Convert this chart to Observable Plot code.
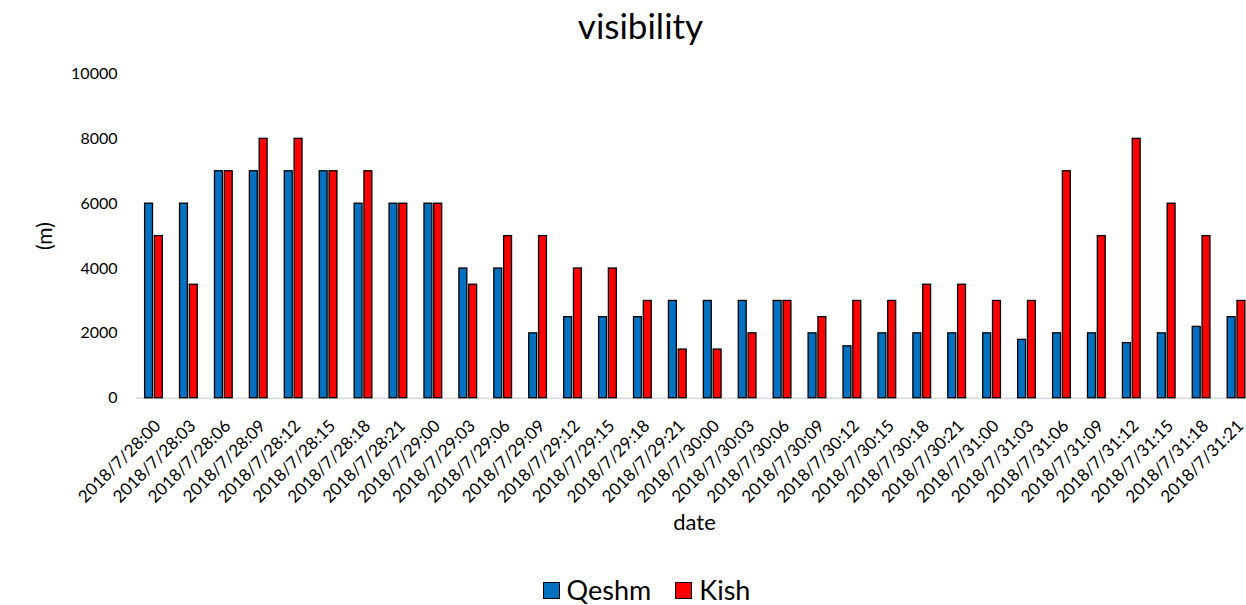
<!DOCTYPE html>
<html><head><meta charset="utf-8">
<script src="https://cdn.jsdelivr.net/npm/d3@7"></script>
<script src="https://cdn.jsdelivr.net/npm/@observablehq/plot@0.6"></script>
<style>
html,body{margin:0;padding:0;background:#fff;overflow:hidden;width:1246px;height:605px;font-family:Lato,sans-serif;color:#000;}
#title{height:50px;line-height:50px;text-align:center;padding-left:35px;font-size:35px;box-sizing:border-box;}
#chart svg{display:block;}
#legend{height:60px;display:flex;justify-content:center;align-items:center;padding-left:47px;padding-top:30px;box-sizing:border-box;font-size:27px;line-height:30px;}
.item{display:flex;align-items:center;margin:0 12px;}
.sw{width:15px;height:15px;border:1.5px solid #000;margin-right:7px;}
</style>
</head><body>
<div id="title">visibility</div>
<div id="chart"></div>
<div id="legend"></div>
<script>
const dates = ["2018/7/28:00","2018/7/28:03","2018/7/28:06","2018/7/28:09","2018/7/28:12","2018/7/28:15","2018/7/28:18","2018/7/28:21",
"2018/7/29:00","2018/7/29:03","2018/7/29:06","2018/7/29:09","2018/7/29:12","2018/7/29:15","2018/7/29:18","2018/7/29:21",
"2018/7/30:00","2018/7/30:03","2018/7/30:06","2018/7/30:09","2018/7/30:12","2018/7/30:15","2018/7/30:18","2018/7/30:21",
"2018/7/31:00","2018/7/31:03","2018/7/31:06","2018/7/31:09","2018/7/31:12","2018/7/31:15","2018/7/31:18","2018/7/31:21"];
const qeshm = [6000,6000,7000,7000,7000,7000,6000,6000,6000,4000,4000,2000,2500,2500,2500,3000,3000,3000,3000,2000,1600,2000,2000,2000,2000,1800,2000,2000,1700,2000,2200,2500];
const kish = [5000,3500,7000,8000,8000,7000,7000,6000,6000,3500,5000,5000,4000,4000,3000,1500,1500,2000,3000,2500,3000,3000,3500,3500,3000,3000,7000,5000,8000,6000,5000,3000];
const yTicks = [0,2000,4000,6000,8000,10000];
const seriesNames = ["Qeshm","Kish"];
const seriesColors = ["#0070C0","#FF0000"];

const rows = dates.map((d,i)=>({date:d, qeshm:qeshm[i], kish:kish[i]}));

const chart = Plot.plot({
  width:1246, height:495,
  marginLeft:136, marginRight:0, marginTop:23.5, marginBottom:147.3,
  style:{fontFamily:"Lato, sans-serif", fontSize:"16px", color:"#000", background:"#fff"},
  x:{type:"band", domain:dates, range:[136,1253.5], padding:0, round:false, axis:null},
  y:{domain:[0,10000]},
  marks:[
    Plot.ruleY([0],{stroke:"#d9d9d9", strokeWidth:1.5}),
    Plot.barY(rows,{x:"date", y:"qeshm", fill:seriesColors[0], stroke:"#000", strokeWidth:1.3, insetLeft:8.6, insetRight:18.4}),
    Plot.barY(rows,{x:"date", y:"kish", fill:seriesColors[1], stroke:"#000", strokeWidth:1.3, insetLeft:18.4, insetRight:8.6}),
    Plot.axisY({ticks:yTicks, tickSize:0, tickPadding:19, label:null, tickFormat:d=>String(d), fontSize:16}),
    Plot.text(dates,{x:d=>d, text:d=>d, frameAnchor:"bottom", rotate:-45, textAnchor:"end", lineAnchor:"middle", dx:4, dy:25, fontSize:17, fill:"#000"}),
    Plot.text(["date"],{frameAnchor:"bottom", text:d=>d, dy:132, dx:3, fontSize:22}),
    Plot.text(["(m)"],{frameAnchor:"left", text:d=>d, dx:-91, dy:14, rotate:-90, fontSize:21})
  ]
});
document.getElementById("chart").appendChild(chart);

const lg = document.getElementById("legend");
seriesNames.forEach((n,i)=>{
  const it = document.createElement("div"); it.className="item";
  const sw = document.createElement("div"); sw.className="sw"; sw.style.background=seriesColors[i];
  const t = document.createElement("span"); t.textContent=n;
  it.appendChild(sw); it.appendChild(t); lg.appendChild(it);
});
</script>
</body></html>
